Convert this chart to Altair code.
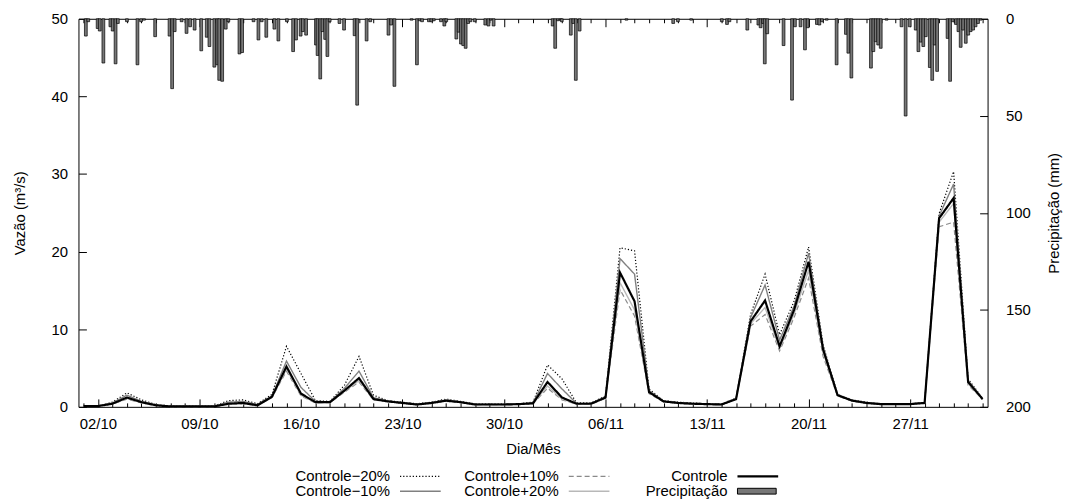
import math
import altair as alt
import pandas as pd

ANO = 2010
FONTE = "Liberation Sans"
FS = 15
W, H = 916, 391

# ---------------- data ----------------
inicio = pd.Timestamp(f"{ANO}-10-01")
dias = pd.date_range(inicio, periods=63, freq="D")

rotulos_x = ["02/10", "09/10", "16/10", "23/10", "30/10", "06/11", "13/11", "20/11", "27/11"]
ticks_vazao = [0, 10, 20, 30, 40, 50]
ticks_prec = [0, 50, 100, 150, 200]

q_controle = [0.1, 0.1, 0.4, 1.2, 0.6, 0.2, 0.05, 0.05, 0.05, 0.05,
              0.4, 0.5, 0.2, 1.3, 5.2, 1.7, 0.6, 0.6, 2.1, 3.7,
              1.0, 0.7, 0.5, 0.3, 0.5, 0.8, 0.6, 0.3, 0.3, 0.3,
              0.35, 0.45, 3.2, 1.2, 0.4, 0.4, 1.2, 17.3, 13.6, 1.9,
              0.7, 0.5, 0.4, 0.35, 0.3, 1.0, 11.0, 13.7, 7.8, 12.5,
              18.7, 7.4, 1.5, 0.8, 0.5, 0.35, 0.35, 0.35, 0.5, 24.3,
              26.9, 3.2, 1.0]
q_m20 = [0.1, 0.1, 0.6, 1.8, 0.9, 0.3, 0.1, 0.1, 0.1, 0.1,
         0.8, 0.9, 0.4, 1.6, 7.8, 4.3, 0.8, 0.7, 2.8, 6.5,
         1.5, 0.8, 0.6, 0.4, 0.6, 1.0, 0.7, 0.4, 0.4, 0.4,
         0.4, 0.6, 5.4, 3.6, 0.5, 0.5, 1.4, 20.5, 20.1, 2.3,
         0.8, 0.6, 0.5, 0.4, 0.4, 1.1, 11.9, 17.1, 9.3, 13.6,
         20.6, 8.0, 1.6, 0.9, 0.6, 0.4, 0.4, 0.4, 0.6, 24.9,
         30.3, 3.6, 1.1]
q_m10 = [0.1, 0.1, 0.5, 1.5, 0.7, 0.25, 0.07, 0.07, 0.07, 0.07,
         0.6, 0.7, 0.3, 1.4, 5.9, 2.5, 0.7, 0.65, 2.4, 4.6,
         1.2, 0.75, 0.55, 0.35, 0.55, 0.9, 0.65, 0.35, 0.35, 0.35,
         0.38, 0.5, 4.3, 2.3, 0.45, 0.45, 1.3, 19.1, 17.1, 2.1,
         0.75, 0.55, 0.45, 0.38, 0.35, 1.05, 11.5, 15.7, 8.6, 13.0,
         19.8, 7.7, 1.55, 0.85, 0.55, 0.38, 0.38, 0.38, 0.55, 24.6,
         28.7, 3.4, 1.05]
q_p10 = [0.1, 0.1, 0.35, 1.0, 0.5, 0.15, 0.04, 0.04, 0.04, 0.04,
         0.35, 0.4, 0.15, 1.2, 4.6, 1.4, 0.5, 0.55, 1.9, 3.2,
         0.9, 0.65, 0.45, 0.28, 0.45, 0.7, 0.55, 0.28, 0.28, 0.28,
         0.32, 0.4, 2.4, 0.9, 0.35, 0.35, 1.1, 15.1, 11.7, 1.7,
         0.65, 0.45, 0.35, 0.32, 0.28, 0.95, 10.4, 11.9, 7.2, 11.5,
         16.6, 6.5, 1.4, 0.75, 0.45, 0.32, 0.32, 0.32, 0.45, 23.2,
         23.8, 2.8, 0.95]
q_p20 = [0.1, 0.1, 0.38, 1.1, 0.55, 0.18, 0.05, 0.05, 0.05, 0.05,
         0.38, 0.45, 0.18, 1.25, 4.9, 1.5, 0.55, 0.58, 2.0, 3.4,
         0.95, 0.68, 0.48, 0.29, 0.48, 0.75, 0.58, 0.29, 0.29, 0.29,
         0.33, 0.42, 2.7, 1.0, 0.38, 0.38, 1.15, 16.0, 12.5, 1.8,
         0.68, 0.48, 0.38, 0.33, 0.29, 0.98, 10.7, 12.8, 7.5, 12.0,
         17.6, 7.0, 1.45, 0.78, 0.48, 0.33, 0.33, 0.33, 0.48, 23.8,
         26.2, 3.0, 0.98]

# precipitation: hours since 01/10 00:00 and depth (mm)
prec_horas = [4, 8, 23.5, 27, 33, 44.6, 48.4, 53.2, 57, 72, 89.4, 95.4, 100.3, 118.7,
              142.5, 146.8, 151, 162.5, 170.6, 176.5, 184, 195, 204, 208.5, 216.6, 221.5,
              224.7, 229.6, 235.5, 239.8, 258.2, 262.6, 281.5, 289.6, 295, 302.6, 316,
              322.6, 336.7, 347, 351.8, 359.4, 363, 368.5, 384.8, 387.5, 391.9, 395.6, 400,
              403.7, 407.5, 423.7, 431.3, 448.7, 453, 468.6, 474.6, 504.8, 509.2, 514.6,
              543, 551.9, 556.3, 560.4, 571.7, 575.8, 579.8, 591.7, 597.2, 600.4, 617.1,
              620.9, 624.8, 628.5, 632.5, 636.6, 640.3, 647.5, 665, 670.2, 674.3, 678.8,
              776.5, 780.7, 785.1, 789.4, 791.6, 806.5, 810.7, 814.8, 821.1, 898.6, 976,
              983.8, 1005.7, 1056.4, 1065, 1069, 1098.6, 1116.9, 1120.6, 1124.7, 1127.5,
              1131.6, 1158.6, 1172.6, 1177.4, 1186.7, 1194, 1198.5, 1213.8, 1217.8, 1222.1,
              1230, 1246.4, 1261.8, 1265.8, 1270.8, 1303.2, 1307.2, 1311.1, 1315.2, 1319.4,
              1329, 1353.8, 1360.6, 1367.3, 1377.3, 1381.7, 1385.8, 1389.8, 1393.9, 1400.6,
              1404.6, 1408.7, 1412.7, 1430, 1434.2, 1438.5, 1443.9, 1448, 1451.7, 1455.8,
              1460.1, 1464.2, 1468.2, 1472.3, 1476.3, 1480.4, 1484.5]
prec_mm = [8.9, 1.5, 5.0, 6.3, 22.8, 4.1, 6.3, 23.2, 2.4, 1.5, 23.7, 1.5, 0.7, 9.2,
           8.9, 36.0, 6.6, 1.5, 7.5, 4.1, 5.8, 16.5, 9.5, 14.3, 24.9, 23.7,
           31.7, 32.2, 5.3, 1.5, 18.1, 17.4, 1.5, 10.9, 1.5, 9.5, 5.3,
           11.4, 1.5, 16.9, 10.9, 8.9, 6.6, 8.4, 13.5, 18.9, 31.0, 6.6, 10.6,
           19.4, 1.5, 2.4, 5.8, 8.7, 44.5, 11.4, 1.5, 8.4, 3.2, 34.8,
           0.7, 23.7, 1.0, 1.5, 1.5, 1.5, 1.0, 1.5, 3.7, 1.5, 10.4,
           6.9, 13.0, 13.8, 15.2, 2.4, 1.5, 1.5, 3.2, 3.7, 0.7, 3.7,
           3.7, 15.2, 1.0, 0.7, 1.5, 8.4, 2.4, 31.7, 6.3, 0.7, 2.4,
           1.5, 0.7, 1.5, 2.9, 1.5, 5.8, 3.2, 4.6, 2.4, 23.2,
           7.7, 13.8, 41.9, 4.1, 4.1, 16.0, 4.6, 2.9, 3.2, 1.5,
           0.7, 23.7, 8.0, 17.7, 30.5, 25.4, 16.9, 11.8, 13.5, 15.2,
           0.7, 4.1, 50.1, 4.1, 5.8, 16.9, 12.0, 14.3, 9.2, 25.1,
           31.7, 13.5, 27.1, 10.1, 32.2, 1.5, 2.9, 6.6, 14.7, 5.8,
           12.6, 8.4, 6.6, 5.8, 4.1, 2.4, 0.7]

NOMES = ["Controle\u221220%", "Controle\u221210%", "Controle+10%", "Controle+20%", "Controle"]
serie_vals = [q_m20, q_m10, q_p10, q_p20, q_controle]
PRECIP = "Precipita\u00e7\u00e3o"

linhas = []
for nome, vals in zip(NOMES, serie_vals):
    for d, v in zip(dias, vals):
        linhas.append({"data": d, "vazao": v, "serie": nome})
df_q = pd.DataFrame(linhas)

df_p = pd.DataFrame({
    "data": inicio + pd.to_timedelta(prec_horas, unit="h"),
    "prec": prec_mm,
    "leg": PRECIP,
})

# ---------------- scales / helpers ----------------
def dt(d):
    return alt.DateTime(year=ANO, month=int(d.month), date=int(d.day))

x_scale = alt.Scale(domain=[dt(dias[0]), dt(dias[-1])])
yq_scale = alt.Scale(domain=[0, 50])
yp_scale = alt.Scale(domain=[0, 200], reverse=True)

maiores = [alt.DateTime(year=ANO, month=int(s[3:]), date=int(s[:2])) for s in rotulos_x]
diarios = [dt(d) for d in dias]
teste_maior = ("(month(datum.value)==9 && date(datum.value)%7==2) || "
               "(month(datum.value)==10 && date(datum.value)%7==6)")
tick_x = {"condition": {"test": teste_maior, "value": 8}, "value": 4}

# key layout (gnuplot style: right-justified label, then sample)
ORIG_X, ORIG_Y = 79, 17          # page position of plot origin
COL_R = [393, 563, 733]          # label right edges (page px)
ROW_Y = [478, 493]               # row centres (page px)
GAP = 10
L_LINE = 41


def legenda(col, row, L, sw, **kw):
    S = math.ceil(L + sw)
    x0 = COL_R[col] + GAP - ORIG_X - (S - L) / 2
    y0 = ROW_Y[row] - ORIG_Y - S / 2
    return alt.Legend(title=None, orient="none", legendX=x0, legendY=y0,
                      symbolSize=L * L, symbolStrokeWidth=sw, labelAlign="right",
                      labelOffset={"expr": str(-(S - (S - L) / 2 + GAP))},
                      padding=0, labelLimit=0, labelFontSize=FS, labelFont=FONTE,
                      labelColor="black", **kw)

# ---------------- layers ----------------
barras = alt.Chart(df_p).mark_bar(size=2.8, stroke="black", strokeWidth=0.7).encode(
    x=alt.X("data:T", scale=x_scale, axis=None),
    y=alt.Y("prec:Q", scale=yp_scale, axis=None),
    fill=alt.Fill("leg:N", scale=alt.Scale(domain=[PRECIP], range=["#777777"]),
                  legend=legenda(2, 1, 39, 1, symbolType="M-1,-0.15H1V0.15H-1Z",
                                 symbolStrokeColor="black")),
)


def camada_linha(nome, cor, traco, largura, col, row):
    dados = df_q[df_q["serie"] == nome]
    leg = legenda(col, row, L_LINE, largura, symbolType="stroke")
    return alt.Chart(dados).mark_line(strokeWidth=largura).encode(
        x=alt.X("data:T", scale=x_scale, axis=None),
        y=alt.Y("vazao:Q", scale=yq_scale, axis=None),
        stroke=alt.Stroke("serie:N", scale=alt.Scale(domain=[nome], range=[cor]), legend=leg),
        strokeDash=alt.StrokeDash("serie:N", scale=alt.Scale(domain=[nome], range=[traco]),
                                  legend=leg),
    )


l_m20 = camada_linha(NOMES[0], "#000000", [1.2, 2], 1.2, 0, 0)
l_m10 = camada_linha(NOMES[1], "#808080", [1, 0], 1.4, 0, 1)
l_p10 = camada_linha(NOMES[2], "#8a8a8a", [5, 3], 1.2, 1, 0)
l_p20 = camada_linha(NOMES[3], "#b8b8b8", [1, 0], 1.4, 1, 1)
l_c = camada_linha(NOMES[4], "#000000", [1, 0], 2.2, 2, 0)

base_q = df_q[df_q["serie"] == NOMES[4]]

eixos_q = alt.Chart(base_q).mark_point(opacity=0).encode(
    x=alt.X("data:T", scale=x_scale,
            axis=alt.Axis(orient="bottom", values=maiores, format="%d/%m", ticks=False,
                          domain=False, grid=False, labelPadding=10, title="Dia/M\u00eas",
                          titlePadding=10)),
    y=alt.Y("vazao:Q", scale=yq_scale,
            axis=alt.Axis(orient="left", values=ticks_vazao, ticks=False, domain=False,
                          grid=False, labelPadding=11, title="Vaz\u00e3o (m\u00b3/s)",
                          titlePadding=24)),
)

ticks_q = alt.Chart(base_q).mark_point(opacity=0).encode(
    x=alt.X("data:T", scale=x_scale,
            axis=alt.Axis(orient="top", offset=-H, values=diarios, tickSize=tick_x,
                          labels=False, domain=False, grid=False, title=None)),
    y=alt.Y("vazao:Q", scale=yq_scale,
            axis=alt.Axis(orient="right", offset=-W, values=ticks_vazao, tickSize=8,
                          labels=False, domain=False, grid=False, title=None)),
)

eixos_p = alt.Chart(df_p).mark_point(opacity=0).encode(
    x=alt.X("data:T", scale=x_scale,
            axis=alt.Axis(orient="bottom", offset=-H, values=diarios, tickSize=tick_x,
                          labels=False, domain=False, grid=False, title=None)),
    y=alt.Y("prec:Q", scale=yp_scale,
            axis=alt.Axis(orient="right", values=ticks_prec, ticks=False, domain=False,
                          grid=False, labelPadding=18, title="Precipita\u00e7\u00e3o (mm)",
                          titlePadding=16, titleAngle=270, titleBaseline="top")),
)

ticks_p = alt.Chart(df_p).mark_point(opacity=0).encode(
    x=alt.X("data:T", scale=x_scale, axis=None),
    y=alt.Y("prec:Q", scale=yp_scale,
            axis=alt.Axis(orient="left", offset=-W, values=ticks_prec, tickSize=8,
                          labels=False, domain=False, grid=False, title=None)),
)

chart = alt.layer(
    barras, l_m20, l_m10, l_p10, l_p20, l_c, eixos_q, ticks_q, eixos_p, ticks_p
).resolve_scale(
    y="independent", stroke="independent", strokeDash="independent"
).resolve_axis(
    x="independent", y="independent"
).properties(
    width=W, height=H,
    autosize=alt.AutoSizeParams(type="none"),
    padding={"left": 71, "top": 9, "right": 77, "bottom": 92},
    background="white",
).configure_view(
    stroke="black", strokeWidth=1
).configure_axis(
    labelFont=FONTE, titleFont=FONTE, labelFontSize=FS, titleFontSize=FS,
    titleFontWeight="normal", labelColor="black", titleColor="black",
    tickColor="black", tickWidth=1,
)

chart.save("out.html", embed_options={"renderer": "svg", "actions": False})
